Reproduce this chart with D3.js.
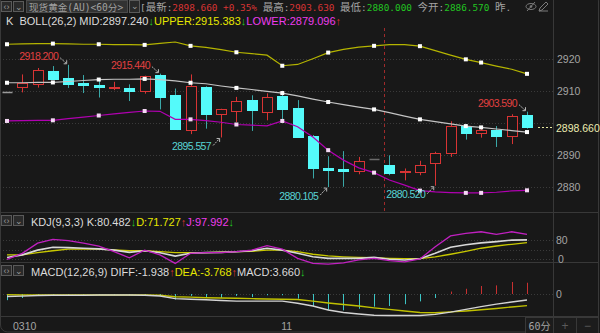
<!DOCTYPE html>
<html>
<head>
<meta charset="utf-8">
<script src="https://cdn.jsdelivr.net/npm/d3@7"></script>
<style>
  html, body { margin: 0; padding: 0; background: #181818; }
  svg { display: block; }
  text { font-family: 'Liberation Sans', Arial, sans-serif; }
  .mono { font-family: 'DejaVu Sans Mono', 'Noto Sans CJK SC', monospace; }
</style>
</head>
<body>
<script>
var width  = 600
var height = 333

// 60 minute candles
var opens  = [2909.6, 2911.1, 2912.1, 2916.3, 2914.1, 2912.4, 2911.8, 2911.0, 2911.0, 2909.8, 2915.0, 2908.7, 2897.8, 2911.3, 2902.9, 2903.8, 2907.1, 2903.5, 2908.5, 2904.6, 2896.0, 2886.2, 2885.8, 2885.1, 2888.7, 2886.9, 2885.0, 2884.8, 2887.4, 2890.6, 2899.1, 2896.8, 2898.0, 2896.3, 2902.5]
var highs  = [2909.6, 2915.2, 2917.2, 2917.8, 2918.2, 2915.0, 2914.1, 2912.9, 2912.1, 2914.8, 2915.44, 2910.8, 2915.2, 2911.5, 2904.5, 2908.2, 2908.7, 2909.3, 2910.1, 2907.2, 2896.3, 2889.7, 2891.3, 2889.5, 2888.7, 2890.0, 2885.9, 2888.3, 2891.1, 2900.6, 2899.7, 2899.1, 2899.1, 2902.8, 2903.59]
var lows   = [2909.6, 2909.6, 2911.1, 2913.9, 2911.0, 2909.4, 2908.0, 2910.3, 2906.9, 2909.2, 2904.3, 2898.0, 2896.6, 2898.3, 2895.557, 2900.4, 2897.6, 2900.9, 2900.7, 2895.7, 2882.8, 2880.105, 2880.2, 2884.1, 2888.7, 2883.8, 2882.2, 2883.8, 2880.52, 2889.5, 2894.9, 2895.5, 2892.6, 2893.5, 2898.3]
var closes = [2909.6, 2912.4, 2916.5, 2913.9, 2912.2, 2911.7, 2911.2, 2911.2, 2910.0, 2914.6, 2908.0, 2898.0, 2911.5, 2903.0, 2904.4, 2906.9, 2904.0, 2908.2, 2904.6, 2895.7, 2885.9, 2885.6, 2885.3, 2888.3, 2888.7, 2884.3, 2885.2, 2886.9, 2890.6, 2899.1, 2896.8, 2897.8, 2896.0, 2902.4, 2898.66]

// BOLL(26,2)
var bollUpper = [2924.6, 2924.7, 2924.8, 2924.8, 2924.7, 2924.6, 2924.6, 2924.5, 2924.5, 2924.4, 2924.9, 2925.3, 2924.1, 2923.6, 2922.9, 2922.1, 2921.7, 2921.2, 2917.9, 2918.3, 2920.1, 2922.0, 2923.0, 2923.7, 2924.1, 2924.5, 2924.5, 2924.0, 2922.6, 2921.2, 2919.9, 2918.9, 2917.8, 2916.8, 2915.383]
var bollMid   = [2912.6, 2912.6, 2912.7, 2912.7, 2913.0, 2913.3, 2913.6, 2913.7, 2913.7, 2913.8, 2913.6, 2913.2, 2912.6, 2912.3, 2911.6, 2911.0, 2910.5, 2909.9, 2909.4, 2908.5, 2907.5, 2906.6, 2905.8, 2905.0, 2904.3, 2903.3, 2902.2, 2901.2, 2900.5, 2899.8, 2899.1, 2898.7, 2898.2, 2897.7, 2897.24]
var bollLower = [2900.7, 2900.8, 2900.9, 2900.9, 2901.4, 2901.9, 2902.4, 2902.9, 2903.4, 2903.8, 2903.7, 2901.2, 2901.2, 2900.8, 2900.3, 2899.6, 2899.4, 2899.2, 2900.7, 2898.9, 2895.7, 2891.6, 2888.5, 2886.1, 2884.6, 2882.3, 2880.7, 2879.0, 2878.6, 2878.4, 2878.3, 2878.3, 2878.5, 2878.9, 2879.096]
var bollMarks = [0, 3, 6, 9, 12, 15, 18, 21, 24, 27, 30, 31, 34]

// KDJ(9,3,3)
var kdjK = [25, 33, 48, 57, 56, 54, 52, 48, 41, 46, 40, 29, 38, 40, 41, 43, 46, 54, 48, 38, 27, 22, 22, 22, 25, 19, 17, 21, 38, 57, 65, 71, 75, 79.5, 80.482]
var kdjD = [33, 33, 40, 46, 51, 52, 51, 49, 46, 46, 43, 40, 40, 40, 42, 43, 44, 48, 48, 43, 35, 30, 27, 25, 24, 22, 21, 21, 27, 35, 44, 54, 61, 66.5, 71.727]
var kdjJ = [19, 38, 70, 82, 78, 70, 61, 43, 24, 48, 33, 6, 38, 40, 40, 43, 48, 62, 51, 22, 6, 4, 8, 17, 22, 15, 11, 20, 59, 93, 101, 106, 98, 106, 97.992]

// MACD(12,26,9)
var macdDiff = [-0.8, -0.7, -0.5, -0.4, -0.4, -0.4, -0.3, -0.3, -0.3, -0.4, -0.65, -1.5, -1.7, -1.85, -2.1, -2.3, -2.3, -2.3, -2.3, -3.0, -3.9, -5.2, -6.0, -6.5, -6.9, -7.0, -7.0, -7.0, -6.6, -5.9, -5.0, -4.1, -3.3, -2.6, -1.938]
var macdDea  = [-0.2, -0.3, -0.3, -0.3, -0.3, -0.3, -0.3, -0.3, -0.3, -0.3, -0.4, -0.9, -1.0, -1.2, -1.3, -1.4, -1.5, -1.6, -1.7, -1.8, -2.3, -2.9, -3.4, -3.9, -4.5, -5.0, -5.5, -6.0, -6.1, -5.8, -5.5, -5.1, -4.7, -4.2, -3.768]
var macdBar  = [-2.0, -1.3, -0.3, -0.3, -0.3, -0.3, -0.3, -0.4, -0.5, -0.5, -0.5, -1.8, -0.6, -1.3, -1.3, -0.6, -1.0, -0.4, -0.4, -1.5, -3.9, -5.2, -5.3, -4.8, -4.1, -3.9, -3.3, -2.4, -1.3, 0.8, 1.7, 2.6, 2.8, 3.9, 3.66]

var priceTicks = [2920, 2910, 2890, 2880]
var kdjTicks   = [80, 50, 20]
var kdjLabels  = ['80', '', '0']
var lastPrice  = 2898.66
var xLabels    = [{ i: 0, text: '0310' }, { i: 18, text: '11' }]
var cursorAt   = 24.65

// high / low marks on the candles
var marks = [
	{ i: 4,  p: 2918.2,   hi: true },
	{ i: 10, p: 2915.44,  hi: true },
	{ i: 14, p: 2895.557, hi: false },
	{ i: 21, p: 2880.105, hi: false },
	{ i: 28, p: 2880.52,  hi: false },
	{ i: 34, p: 2903.59,  hi: true }
]

var red = '#d83434', cyan = '#54fafa', green = '#22c422', yellow = '#e6e600',
	magenta = '#ee3cee', white = '#dcdcdc', gray = '#a4a4a4', line = '#383838'

var svg = d3.select('body')
	.append('svg')
	.attr('width', width)
	.attr('height', height)

svg.append('rect').attr('width', width).attr('height', height).attr('fill', '#181818')

var x = d3.scaleLinear().domain([0, 34]).range([7, 527])
var yPrice = d3.scaleLinear().domain([2872.34, 2929.66]).range([212, 28])
var yKdj = d3.scaleLinear().domain([20, 80]).range([259, 240])
var yMacd = d3.scaleLinear().domain([-7.14, 4.55]).range([316, 280])

// frame and panel separators
svg.append('rect')
	.attr('x', 0.5).attr('y', -6).attr('width', 598).attr('height', 338)
	.attr('rx', 7).attr('fill', 'none').attr('stroke', line)
;[212.5, 262.5, 316.5].forEach(y => {
	svg.append('line').attr('x1', 0).attr('x2', 599).attr('y1', y).attr('y2', y).attr('stroke', line)
})
svg.append('line').attr('x1', 553.5).attr('x2', 553.5).attr('y1', 0).attr('y2', 333).attr('stroke', line)

// dotted grid
function grid(y) {
	svg.append('line')
		.attr('x1', 0).attr('x2', 553).attr('y1', y).attr('y2', y)
		.attr('stroke', '#3a3a3a').attr('stroke-dasharray', '1,2')
}
priceTicks.concat([2900]).forEach(t => grid(Math.round(yPrice(t)) + 0.5))
kdjTicks.forEach(t => grid(Math.round(yKdj(t)) + 0.5))
grid(Math.round(yMacd(0)) + 0.5)

// cursor line
svg.append('line')
	.attr('x1', Math.round(x(cursorAt)) + 0.5).attr('x2', Math.round(x(cursorAt)) + 0.5)
	.attr('y1', 28).attr('y2', 212)
	.attr('stroke', '#a02a2a').attr('stroke-dasharray', '3,3')

// candles
opens.forEach((o, i) => {
	var c = closes[i]
	var cx = Math.round(x(i)) + 0.5
	if (o === c && highs[i] === lows[i]) {
		svg.append('line')
			.attr('x1', cx - 5).attr('x2', cx + 5)
			.attr('y1', Math.round(yPrice(c)) + 0.5).attr('y2', Math.round(yPrice(c)) + 0.5)
			.attr('stroke', i === 0 ? '#9a9a9a' : '#6a6a6a').attr('stroke-width', 1.5)
		return
	}
	var up = c >= o
	svg.append('line')
		.attr('x1', cx).attr('x2', cx)
		.attr('y1', yPrice(highs[i])).attr('y2', yPrice(lows[i]))
		.attr('stroke', up ? red : '#3aa8a8')
	var top = yPrice(Math.max(o, c)), bot = yPrice(Math.min(o, c))
	svg.append('rect')
		.attr('x', cx - 5).attr('width', 10)
		.attr('y', Math.round(top) + 0.5)
		.attr('height', Math.max(1, Math.round(bot - top)))
		.attr('fill', up ? '#181818' : cyan)
		.attr('stroke', up ? red : cyan)
})

// bollinger bands
function band(values, color) {
	svg.append('path')
		.datum(values)
		.attr('d', d3.line().x((d, i) => x(i)).y(d => yPrice(d)))
		.attr('fill', 'none').attr('stroke', color).attr('stroke-width', 1.2)
	svg.selectAll(null)
		.data(bollMarks)
		.enter()
		.append('rect')
		.attr('x', i => x(i) - 2).attr('y', i => yPrice(values[i]) - 2)
		.attr('width', 4).attr('height', 4)
		.attr('fill', color === '#b000b0' ? '#f4d8f4' : '#ffffff')
}
band(bollUpper, '#b4b400')
band(bollMid, '#c4c4c4')
band(bollLower, '#b000b0')

// high / low labels with arrows
marks.forEach(m => {
	var px = x(m.i), py = yPrice(m.p)
	var ty = m.hi ? py - 4.5 : py + 12.5
	svg.append('text')
		.attr('x', px - 10).attr('y', ty)
		.attr('text-anchor', 'end')
		.attr('font-size', 10.5).attr('letter-spacing', -0.6)
		.attr('fill', m.hi ? '#e24040' : '#58d4d4')
		.text(m.p.toFixed(3))
	var y0 = m.hi ? py - 7 : py + 8, y1 = m.hi ? py - 1 : py + 1
	svg.append('line')
		.attr('x1', px - 8).attr('y1', y0).attr('x2', px - 1.5).attr('y2', y1)
		.attr('stroke', '#b8b8b8').attr('stroke-dasharray', '2,1')
	var hy = m.hi ? y1 - 3.5 : y1 + 3.5
	svg.append('path')
		.attr('d', 'M' + (px - 4.5) + ',' + y1 + 'L' + (px - 1.5) + ',' + y1 + 'L' + (px - 1.5) + ',' + hy)
		.attr('fill', 'none').attr('stroke', '#b8b8b8')
})

// price axis
svg.selectAll(null)
	.data(priceTicks)
	.enter()
	.append('text')
	.attr('x', 557).attr('y', d => yPrice(d) + 4)
	.attr('font-size', 10.5).attr('fill', gray)
	.text(d => d)

svg.append('line')
	.attr('x1', 538).attr('x2', 553)
	.attr('y1', yPrice(lastPrice)).attr('y2', yPrice(lastPrice))
	.attr('stroke', '#e8e8a0').attr('stroke-dasharray', '2,2')
svg.append('text')
	.attr('x', 556).attr('y', yPrice(lastPrice) + 4)
	.attr('font-size', 10.5).attr('fill', '#ececb0')
	.text(lastPrice.toFixed(3))

// KDJ lines
function series(values, scale, color, w) {
	svg.append('path')
		.datum(values)
		.attr('d', d3.line().x((d, i) => x(i)).y(d => scale(d)))
		.attr('fill', 'none').attr('stroke', color).attr('stroke-width', w)
}
series(kdjD, yKdj, '#c8c800', 1.3)
series(kdjK, yKdj, '#d8d8d8', 1.6)
series(kdjJ, yKdj, '#c020c0', 1.3)

kdjTicks.forEach((t, k) => {
	svg.append('text')
		.attr('x', k === 2 ? 558 : 556).attr('y', yKdj(t) + 4)
		.attr('font-size', 10.5).attr('fill', gray)
		.text(kdjLabels[k])
})

// MACD bars and lines
svg.selectAll(null)
	.data(macdBar)
	.enter()
	.append('line')
	.attr('x1', (d, i) => Math.round(x(i)) + 0.5)
	.attr('x2', (d, i) => Math.round(x(i)) + 0.5)
	.attr('y1', yMacd(0))
	.attr('y2', d => yMacd(d))
	.attr('stroke', d => d >= 0 ? '#c83030' : '#3cc4c4')

series(macdDea, yMacd, '#c0c000', 1.4)
series(macdDiff, yMacd, '#d4d4d4', 1.4)

svg.append('text')
	.attr('x', 556).attr('y', yMacd(0) + 4)
	.attr('font-size', 10.5).attr('fill', gray)
	.text('0')

// time axis
svg.selectAll(null)
	.data(xLabels)
	.enter()
	.append('text')
	.attr('x', d => d.i === 0 ? x(d.i) + 6 : x(d.i) - 1)
	.attr('y', 330)
	.attr('font-size', 10.5).attr('fill', gray)
	.text(d => d.text)

// bottom right buttons
;[[525, 28, '60分'], [553, 23, '+'], [576, 22, '−']].forEach(b => {
	svg.append('rect')
		.attr('x', b[0] + 0.5).attr('y', 317.5).attr('width', b[1]).attr('height', 16)
		.attr('fill', '#1c1c1c').attr('stroke', line)
	svg.append('text')
		.attr('x', b[0] + b[1] / 2 + 0.5).attr('y', 329.5)
		.attr('text-anchor', 'middle')
		.attr('class', b[2] === '60分' ? 'mono' : null)
		.attr('font-size', b[2] === '60分' ? 10 : 12)
		.attr('fill', b[2] === '60分' ? gray : '#5a5a5a')
		.text(b[2])
})

// small header buttons
function buttons(y) {
	[[1, '‹›'], [13, '⌄']].forEach(b => {
		svg.append('rect')
			.attr('x', b[0] + 0.5).attr('y', y + 0.5).attr('width', 10).attr('height', 10)
			.attr('fill', '#2a2a2a').attr('stroke', '#5a5a5a')
		svg.append('text')
			.attr('x', b[0] + 5.5).attr('y', y + 8.5)
			.attr('text-anchor', 'middle')
			.attr('font-size', 9).attr('fill', '#9a9a9a')
			.text(b[1])
	})
}
buttons(1)
buttons(215)
buttons(265)

// title box
svg.append('rect')
	.attr('x', 26.5).attr('y', 0.5).attr('width', 101).attr('height', 12)
	.attr('fill', '#323232').attr('stroke', '#4a4a4a')
svg.append('text')
	.attr('class', 'mono')
	.attr('x', 29).attr('y', 10.5)
	.attr('font-size', 9.6).attr('fill', '#a0a0a0')
	.text('现货黄金(AU)<60分>')
svg.append('rect')
	.attr('x', 129.5).attr('y', 0.5).attr('width', 10).attr('height', 12)
	.attr('fill', '#2a2a2a').attr('stroke', '#5a5a5a')
svg.append('text')
	.attr('x', 134.5).attr('y', 9).attr('text-anchor', 'middle')
	.attr('font-size', 9).attr('fill', '#9a9a9a').text('⌄')

function spans(t, parts) {
	parts.forEach(p => {
		var s = t.append('tspan').attr('fill', p[1]).text(p[0])
		if (p[2]) s.attr('font-size', p[2])
	})
}

// quote line: CJK a little larger than the digits
var quote = svg.append('text')
	.attr('class', 'mono').attr('x', 140).attr('y', 10.5)
	.attr('font-size', 9.4).attr('xml:space', 'preserve')
spans(quote, [
	['[', gray], ['最新', gray, 10.5], [':', gray], ['2898.660 +0.35%', red],
	[' ', gray], ['最高', gray, 10.5], [':', gray], ['2903.630', red],
	[' ', gray], ['最低', gray, 10.5], [':', gray], ['2880.000', green],
	[' ', gray], ['今开', gray, 10.5], [':', gray], ['2886.570', green],
	[' ', gray], ['昨', gray, 10.5], ['.', gray]
])

// eye and pencil icons
svg.append('ellipse').attr('cx', 531).attr('cy', 6.5).attr('rx', 5).attr('ry', 3)
	.attr('fill', 'none').attr('stroke', '#7a7a7a')
svg.append('circle').attr('cx', 531).attr('cy', 6.5).attr('r', 1.3).attr('fill', '#7a7a7a')
svg.append('line').attr('x1', 527).attr('y1', 11).attr('x2', 535).attr('y2', 2).attr('stroke', '#7a7a7a')
svg.append('path').attr('d', 'M539,11 L540,8 L546,2 L548,4 L542,10 Z M539,11 L548,11')
	.attr('fill', 'none').attr('stroke', '#7a7a7a')

// indicator headers
var boll = svg.append('text').attr('x', 6).attr('y', 25).attr('font-size', 11).attr('xml:space', 'preserve')
spans(boll, [
	['K  BOLL(26,2) MID:2897.240', white], ['↓', green], ['UPPER:2915.383', yellow],
	['↓', green], ['LOWER:2879.096', magenta], ['↑', red]
])

var kdj = svg.append('text').attr('x', 31).attr('y', 225.5).attr('font-size', 11)
spans(kdj, [
	['KDJ(9,3,3) K:80.482', white], ['↓', green], ['D:71.727', yellow], ['↑', red],
	['J:97.992', magenta], ['↓', green]
])

var macd = svg.append('text').attr('x', 31).attr('y', 275.5).attr('font-size', 11)
spans(macd, [
	['MACD(12,26,9) DIFF:-1.938', white], ['↑', red], ['DEA:-3.768', yellow], ['↑', red],
	['MACD:3.660', white], ['↓', green]
])
</script>
</body>
</html>
